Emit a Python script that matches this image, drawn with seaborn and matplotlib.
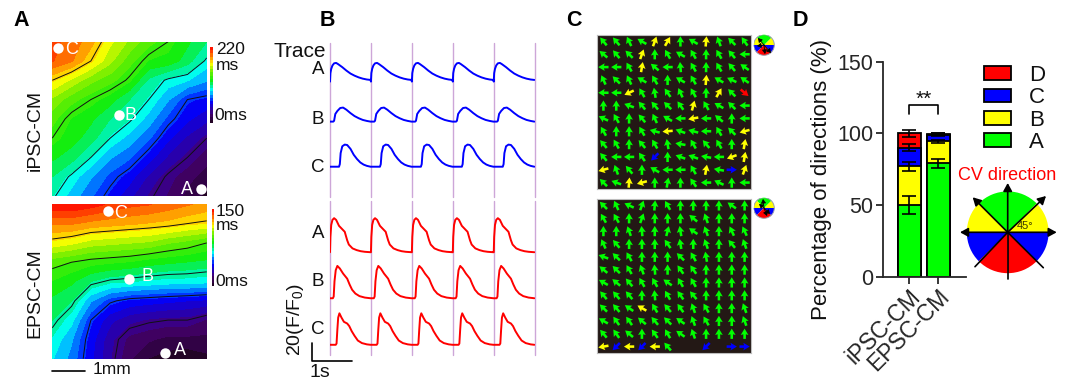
import numpy as np
import seaborn as sns
import matplotlib.pyplot as plt
from matplotlib.colors import LinearSegmentedColormap

# activation maps, delay as a fraction of the colour scale, top row first
ipsc_delay = [
    [.93, .90, .85, .76, .70, .64, .60, .55, .50],
    [.92, .88, .80, .72, .64, .58, .57, .52, .44],
    [.80, .74, .68, .64, .59, .49, .44, .42, .38],
    [.70, .64, .60, .56, .50, .45, .38, .30, .28],
    [.64, .58, .55, .50, .46, .40, .32, .26, .22],
    [.60, .56, .52, .45, .40, .34, .26, .20, .15],
    [.55, .52, .45, .38, .34, .27, .20, .15, .10],
    [.50, .44, .38, .32, .27, .20, .14, .10, .06],
    [.46, .40, .34, .28, .22, .16, .12, .07, .03],
]
epsc_delay = [
    [1.0, 1.0, .98, .95, .93, .92, .90, .88, .86],
    [.88, .88, .86, .85, .84, .83, .82, .80, .79],
    [.78, .76, .73, .72, .71, .70, .67, .65, .62],
    [.64, .62, .60, .59, .58, .56, .55, .54, .53],
    [.58, .55, .50, .47, .46, .45, .44, .44, .43],
    [.53, .50, .38, .31, .28, .27, .26, .25, .24],
    [.50, .43, .30, .22, .18, .16, .15, .15, .12],
    [.45, .38, .27, .18, .11, .09, .07, .07, .07],
    [.42, .36, .26, .17, .09, .04, .02, .01, .03],
]
ipsc_contours = [.15, .30, .45, .60, .80]
epsc_contours = [.15, .30, .48, .62, .80]

# one beat of each optical trace: time (s) and signal (F/F0 above baseline)
blue_a_t = [0, .01, .03, .06, .1, .15, .2, .3, .4, .5, .6, .7, .8, .9, .99]
blue_a = [-2, 8, 13, 17, 19.5, 20, 18.5, 15, 11, 7.5, 5, 3, 1.5, .5, 0]
blue_b_t = [0, .08, .1, .13, .18, .25, .32, .4, .5, .6, .7, .8, .9, .99]
blue_b = [0, 0, 1, 9, 12.5, 16, 16.5, 14, 10, 6.5, 4, 2, .8, 0]
blue_c_t = [0, .22, .24, .26, .3, .36, .42, .5, .58, .66, .74, .82, .9, .99]
blue_c = [0, 0, 3, 16, 24, 26, 25.5, 21, 14, 9, 5, 2.5, 1, 0]
red_a_t = [0, .01, .03, .06, .1, .15, .22, .3, .36, .42, .46, .55, .65, .75, .85, .99]
red_a = [0, 18, 32, 38, 40, 38, 31, 27, 24, 14, 9, 4.5, 2.5, 1.2, .5, 0]
red_b_t = [0, .07, .09, .11, .14, .18, .24, .32, .42, .48, .54, .62, .72, .85, .99]
red_b = [0, 0, 2, 20, 33, 38, 35, 29, 23, 16, 10, 5.5, 2.5, .8, 0]
red_c_t = [0, .14, .16, .18, .2, .23, .28, .34, .42, .47, .53, .6, .68, .78, .9, .99]
red_c = [0, 0, 1.5, 18, 32, 37, 32, 27, 25, 22, 16, 10.5, 5, 2, .5, 0]
beat_starts = [0, 1, 2, 3, 4]

# conduction arrows, screen angle in degrees, 12 x 12, top row first
ipsc_angle = [
    [130, 130, 115, 150, 70, 60, 90, 150, 85, 110, 135, 125],
    [140, 130, 135, 70, 90, 120, 150, 120, 90, 120, 130, 180],
    [180, 180, 120, 80, 140, 180, 95, 120, 90, 120, 130, 145],
    [115, 135, 115, 150, 120, 90, 150, 120, 85, 150, 155, 145],
    [180, 180, 205, 120, 100, 125, 115, 120, 90, 60, 135, -40],
    [90, 90, 160, 130, 130, 135, 125, 75, 120, 150, 135, 180],
    [155, 120, 90, 130, 115, 150, 180, 190, 180, 140, 90, 180],
    [120, 90, 90, 120, 165, 185, 160, 165, 180, 120, 135, 195],
    [130, 120, 90, 130, 120, 100, 170, 120, 130, 120, 90, 80],
    [130, 180, 180, 125, 225, 90, 160, 160, 170, 180, 200, 80],
    [195, 110, 130, 90, 150, 180, 180, 120, 80, 170, 0, 70],
    [135, 160, 85, 195, 90, 80, 90, 125, 180, 155, 90, 180],
]
ipsc_class = ["AAAABBAABAAA", "AAABAAAAAAAA", "AAABAAAAAAAA", "AAAAAAAABAAA",
              "AABAAAAAABAD", "AAAAAAABAAAA", "AAAAAAABAAAA", "AAAAABAAAAAB",
              "AAAAAAAAAAAB", "AAAACAAAAABB", "BAAAAAAABACB", "AABBAAAAAAAA"]
epsc_angle = [
    [135, 115, 155, 70, 85, 120, 90, 90, 90, 90, 145, 90],
    [120, 120, 90, 70, 90, 90, 90, 140, 110, 90, 90, 90],
    [90, 90, 110, 95, 90, 75, 100, 145, 110, 90, 115, 115],
    [115, 130, 90, 90, 90, 125, 100, 90, 110, 90, 130, 110],
    [160, 135, 120, 90, 90, 90, 135, 120, 100, 90, 90, 90],
    [140, 135, 120, 110, 95, 90, 125, 125, 90, 90, 90, 90],
    [150, 140, 130, 120, 120, 145, 120, 120, 90, 90, 90, 90],
    [130, 130, 130, 90, 95, 120, 125, 130, 90, 90, 90, 90],
    [135, 130, 145, 150, 120, 130, 125, 110, 120, 90, 90, 110],
    [150, 125, 125, 140, 130, 135, 145, 110, 120, 90, 90, 110],
    [130, 125, 140, 90, 125, 120, 145, 110, 90, 90, 90, 90],
    [190, 225, 180, 225, 180, 130, np.nan, np.nan, 225, np.nan, 0, 0],
]
epsc_class = ["AAAAAAAAAAAA"] * 8 + ["AAABAAAAAAAA", "AAAAAAAAAAAA", "AAAAAAAAAAAA",
                                     "BCBCBAAACACC"]

# direction share, stacked bars
groups = ["iPSC-CM", "EPSC-CM"]
share_a = [50, 79]
share_b = [27, 15.5]
share_c = [13, 4.5]
share_d = [10, .5]
sem_a = [6, 3]
sem_b = [3, 1]
sem_c = [2.5, 1]
sem_d = [2.5, .5]
wheel_share = [45, 45, 45, 45, 45, 45, 45, 45]

GREEN, YELLOW, BLUE, RED = "#00FF00", "#FFFF00", "#0000FF", "#FF0000"
class_colors = {"A": GREEN, "B": YELLOW, "C": BLUE, "D": RED}
wheel_colors = [YELLOW, GREEN, GREEN, YELLOW, BLUE, RED, RED, BLUE]

sns.set_theme(style="ticks")
plt.rcParams["font.family"] = ["Liberation Sans", "DejaVu Sans"]
plt.rcParams["mathtext.fontset"] = "custom"
plt.rcParams["mathtext.rm"] = "Liberation Sans"
plt.rcParams["text.color"] = "#111111"

W, H = 1080, 387
fig = plt.figure(figsize=(W / 100, H / 100), dpi=100)


def px_axes(x0, y0, x1, y1):
    return fig.add_axes([x0 / W, 1 - y1 / H, (x1 - x0) / W, (y1 - y0) / H])


delay_cmap = LinearSegmentedColormap.from_list("delay", [
    (0, "#1c0518"), (.12, "#45006e"), (.28, "#0000ff"), (.37, "#0090ff"),
    (.43, "#00ffff"), (.49, "#00f090"), (.56, "#10ee10"), (.68, "#70ee00"),
    (.78, "#ffff00"), (.88, "#ff8000"), (1, "#ff0000")])


def draw_map(box, delay, contours):
    ax = px_axes(*box)
    u = np.linspace(0, 1, 9)
    cs = ax.contourf(u, u, np.array(delay), levels=np.linspace(0, 1, 25),
                     cmap=delay_cmap, vmin=0, vmax=1)
    ax.contour(u, u, np.array(delay), levels=contours, colors="#111111", linewidths=.7)
    ax.set_ylim(1, 0)
    ax.axis("off")
    return ax, cs


map_top, cs_top = draw_map((52.3, 41.7, 206.7, 196), ipsc_delay, ipsc_contours)
map_bot, cs_bot = draw_map((52.3, 204.3, 206.7, 358.7), epsc_delay, epsc_contours)
for box, cs in [((210, 47, 212.8, 123), cs_top), ((211.5, 209, 214, 286), cs_bot)]:
    cax = px_axes(*box)
    cb = fig.colorbar(cs, cax=cax, ticks=[])
    cb.outline.set_visible(False)


def draw_traces(box, traces, color):
    ax = px_axes(*box)
    for t, y, base in traces:
        xs = np.concatenate([s + np.array(t) for s in beat_starts])
        ys = np.concatenate([np.array(y) + base for s in beat_starts])
        sns.lineplot(x=xs, y=ys, color=color, lw=1.4, estimator=None, sort=False, ax=ax)
    for s in beat_starts + [5]:
        ax.axvline(s, color="#cda6d8", lw=1, zorder=0, clip_on=False)
    ax.set_xlim(0, 5)
    ax.set_ylim(0, 181)
    ax.axis("off")


draw_traces((330, 43, 534.7, 197),
            [(blue_a_t, blue_a, 137.6), (blue_b_t, blue_b, 88.6), (blue_c_t, blue_c, 35.6)], BLUE)
draw_traces((330, 201, 534.7, 355),
            [(red_a_t, red_a, 120.8), (red_b_t, red_b, 66.7), (red_c_t, red_c, 12)], RED)


def draw_arrows(box, angle, classes):
    ax = px_axes(*box)
    ang = np.radians(np.array(angle, dtype=float))
    col, row = np.meshgrid(np.arange(12), np.arange(12))
    colors = [class_colors[c] for line in classes for c in line]
    ax.set_facecolor("#231815")
    ax.quiver(col, 11 - row, .8 * np.cos(ang), .8 * np.sin(ang), color=colors, pivot="mid",
              angles="uv", units="xy", scale=1, width=.2, headwidth=3, headlength=2.5,
              headaxislength=2.2)
    ax.set_xlim(-.5, 11.5)
    ax.set_ylim(-.5, 11.5)
    ax.set_xticks([])
    ax.set_yticks([])
    for s in ax.spines.values():
        s.set_color("#bdbdbd")
        s.set_linewidth(.8)


draw_arrows((597, 35, 751, 189), ipsc_angle, ipsc_class)
draw_arrows((597, 199, 751, 353), epsc_angle, epsc_class)

# stacked bars, painted tallest first
ax_d = px_axes(883.3, 61.7, 966, 276.7)
tops = np.cumsum([share_a, share_b, share_c, share_d], axis=0)
for top, c in zip(tops[::-1], [RED, BLUE, YELLOW, GREEN]):
    sns.barplot(x=groups, y=top, color=c, saturation=1, width=.8, edgecolor="black",
                linewidth=1.3, ax=ax_d)
for top, err in zip(tops, [sem_a, sem_b, sem_c, sem_d]):
    ax_d.errorbar([0, 1], top, yerr=err, fmt="none", ecolor="black", elinewidth=1.2,
                  capsize=5, capthick=1.2, zorder=5)
ax_d.plot([0, 0, 1, 1], [113.5, 120, 120, 113.5], color="black", lw=1.2, clip_on=False)
ax_d.text(.5, 124, "**", ha="center", va="center", fontsize=15)
ax_d.set_xlim(-.897, 1.966)
ax_d.set_ylim(0, 150)
ax_d.set_yticks([0, 50, 100, 150])
ax_d.set_xticks([0, 1])
ax_d.set_xticklabels(groups, rotation=45, ha="right", rotation_mode="anchor", fontsize=16.5)
ax_d.tick_params(axis="y", labelsize=15.5, width=1.3, length=5, pad=2)
ax_d.tick_params(axis="x", width=1.3, length=5, pad=1)
ax_d.set_ylabel("")
ax_d.patch.set_alpha(0)
sns.despine(ax=ax_d)
for s in ax_d.spines.values():
    s.set_linewidth(1.3)

handles = [plt.Rectangle((0, 0), 1, 1, facecolor=c, edgecolor="black", lw=1.3)
           for c in [RED, BLUE, YELLOW, GREEN]]
fig.legend(handles, ["D", "C", "B", "A"], loc="upper left", frameon=False, fontsize=16,
           bbox_to_anchor=(984 / W, 1 - 65 / H), borderpad=0, borderaxespad=0,
           handlelength=1.22, handleheight=.58, handletextpad=.8, labelspacing=.06)


def draw_wheel(cx, cy, r, edge):
    ax = px_axes(cx - r, cy - r, cx + r, cy + r)
    ax.pie(wheel_share, colors=wheel_colors, startangle=0, radius=1,
           wedgeprops={"linewidth": 0})
    if edge:
        ax.add_patch(plt.Circle((0, 0), 1, fill=False, ec="#9aa0b0", lw=.7))
    ax.set_xlim(-1.02, 1.02)
    ax.set_ylim(-1.02, 1.02)
    return ax


draw_wheel(1007.7, 232.3, 41.7, False)
draw_wheel(764, 45, 10.5, True)
draw_wheel(764, 208, 10.5, True)

over = fig.add_axes([0, 0, 1, 1])
over.set_xlim(0, W)
over.set_ylim(H, 0)
over.axis("off")
over.patch.set_alpha(0)

for x, label in [(13, "A"), (320, "B"), (566, "C"), (793, "D")]:
    over.text(x, 21, label, fontsize=15.5, fontweight="bold", va="center", color="black")
over.text(35, 130, "iPSC-CM", rotation=90, fontsize=14, ha="center", va="center")
over.text(35, 293, "EPSC-CM", rotation=90, fontsize=14, ha="center", va="center")

# map markers and labels
for (dx, dy), (tx, ty), label in [
    ((57.7, 48), (71.5, 49.3), "C"), ((119.3, 114.7), (130.7, 115), "B"),
    ((201, 189), (186.7, 189), "A"), ((108.3, 210.7), (120.7, 213.3), "C"),
    ((129.3, 279.3), (147.3, 276.7), "B"), ((165.3, 352.7), (180, 350.7), "A"),
]:
    over.plot(dx, dy, "o", color="white", ms=7.5, mew=0)
    over.text(tx, ty, label, color="white", fontsize=13, ha="center", va="center")
for x, y, label in [(216, 50, "220"), (216, 65, "ms"), (214, 115, "0ms"),
                    (216, 211, "150"), (216, 226, "ms"), (215, 281, "0ms")]:
    over.text(x, y, label, fontsize=12.5, va="center")
over.plot([51.7, 85], [370.7, 370.7], color="black", lw=1.2)
over.text(93, 369.5, "1mm", fontsize=12.5, va="center")

# trace labels and scale bar
over.text(299.5, 51.7, "Trace", fontsize=15, ha="center", va="center")
for y, label in [(70, "A"), (119, "B"), (167.5, "C"), (233.5, "A"), (282, "B"), (330, "C")]:
    over.text(318, y, label, fontsize=13.5, ha="center", va="center")
over.text(296, 320, r"20(F/F$\mathregular{_0}$)", rotation=90, fontsize=14,
          ha="center", va="center")
over.plot([311.7, 311.7, 351.7], [343.3, 360.7, 360.7], color="black", lw=1.2)
over.text(320, 372.5, "1s", fontsize=14, ha="center", va="center")

# panel D labels and direction wheel
over.text(822, 180, "Percentage of directions (%)", rotation=90, fontsize=16,
          ha="center", va="center")
over.text(1007.5, 175, "CV direction", color=RED, fontsize=13, ha="center", va="center")
over.text(1025, 226, "45°", fontsize=8, color="#3a3a00", ha="center", va="center")
for tip in [(1056.7, 232.3), (1046, 196), (1007.7, 183), (972.7, 197.3), (960, 232.3)]:
    over.annotate("", xy=tip, xytext=(1007.7, 232.3),
                  arrowprops=dict(arrowstyle="-|>,head_width=.22,head_length=.4", color="black",
                                  lw=1.2, shrinkA=0, shrinkB=0))
for tip in [(975, 266.7), (1007.7, 279.3), (1043.3, 267.7)]:
    over.plot([1007.7, tip[0]], [232.3, tip[1]], color="black", lw=1.2)

# small wheels, mean direction arrows
for cy, tips in [(45, [(758, 38), (771, 53), (765, 54), (757, 46)]),
                 (208, [(763, 199), (767, 216), (770, 214), (759, 204)])]:
    for tip in tips:
        over.annotate("", xy=tip, xytext=(764, cy),
                      arrowprops=dict(arrowstyle="-|>,head_width=.12,head_length=.2",
                                      color="black", lw=.6, shrinkA=0, shrinkB=0))

plt.savefig("out.png", dpi=100)
